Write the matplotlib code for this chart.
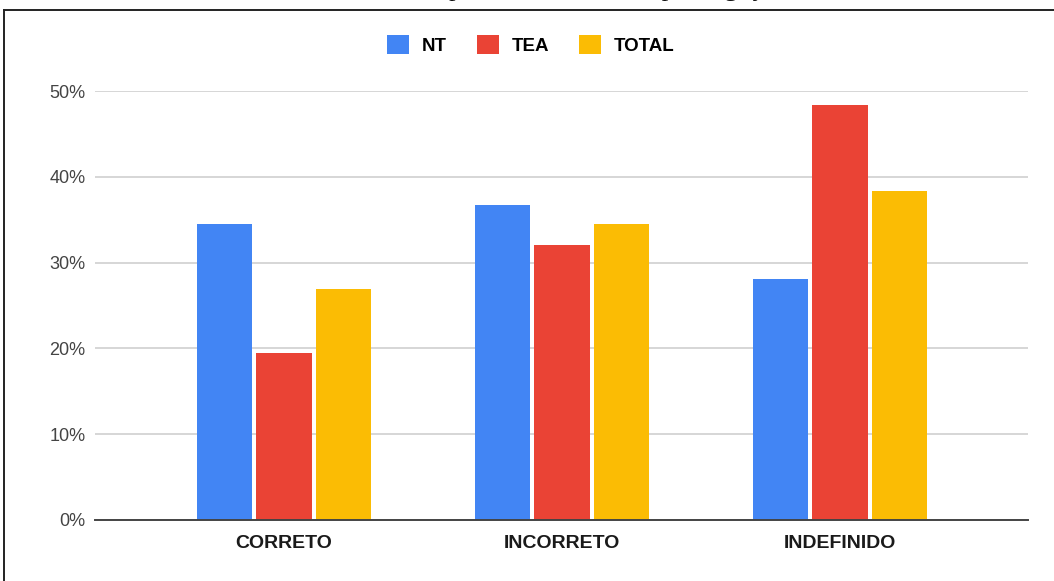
import matplotlib
matplotlib.use("Agg")
import matplotlib.pyplot as plt
from matplotlib.lines import Line2D
from matplotlib.patches import Patch
import numpy as np

# respostas por categoria (proporção)
categorias = ["CORRETO", "INCORRETO", "INDEFINIDO"]
nt = [0.345, 0.367, 0.281]
tea = [0.195, 0.320, 0.484]
total = [0.269, 0.345, 0.383]
series = ["NT", "TEA", "TOTAL"]
cores = ["#4285F4", "#EA4335", "#FBBC04"]
yticks = [0, 0.1, 0.2, 0.3, 0.4, 0.5]

W, H = 1054, 581
fig = plt.figure(figsize=(W / 100, H / 100), dpi=100)
ax = fig.add_axes([95 / W, 61 / H, (1028 - 95) / W, (520 - 91) / H])

x = np.arange(len(categorias))
largura = 0.199
passo = 0.214
for i, (vals, cor) in enumerate(zip([nt, tea, total], cores)):
    ax.bar(x + (i - 1) * passo, vals, width=largura, color=cor, zorder=3)

ax.set_xlim(-0.68, 2.676)
ax.set_ylim(0, 0.5)
ax.set_yticks(yticks)
ax.set_yticklabels([f"{int(round(t * 100))}%" for t in yticks],
                   fontsize=13, color="#444444", family="Liberation Sans")
ax.set_xticks(x)
ax.set_xticklabels(categorias, fontsize=14, fontweight="bold",
                   color="#1a1a1a", family="Liberation Sans")
ax.tick_params(axis="both", length=0)
ax.tick_params(axis="y", pad=7)
ax.tick_params(axis="x", pad=11)
ax.grid(axis="y", color="#d0d0d0", linewidth=1.2, zorder=0)
for s in ["top", "right", "left"]:
    ax.spines[s].set_visible(False)
ax.spines["bottom"].set_color("#444444")
ax.spines["bottom"].set_linewidth(1.4)
ax.spines["bottom"].set_zorder(4)

handles = [Patch(facecolor=c, edgecolor="none") for c in cores]
leg = fig.legend(handles, series, loc="center", bbox_to_anchor=(531 / W, 1 - 45 / H),
                 ncol=3, frameon=False, handlelength=1.15, handleheight=1.15,
                 handletextpad=0.7, columnspacing=1.6,
                 prop={"family": "Liberation Sans", "weight": "bold", "size": 13.5})

# moldura e legenda do gráfico (cortada no topo)
fig.add_artist(Line2D([4 / W, 4 / W], [0, 1 - 10 / H], color="#222222", linewidth=1.4))
fig.add_artist(Line2D([4 / W, 1], [1 - 10 / H, 1 - 10 / H], color="#222222", linewidth=1.4))
fig.text(535 / W, 1 + 4 / H, "Gráfico 3 – Respostas ao item de dupla negação",
         ha="center", va="baseline", fontsize=18.7, family="Liberation Serif", color="#111111")

fig.savefig("out.png", dpi=100, facecolor="white")
